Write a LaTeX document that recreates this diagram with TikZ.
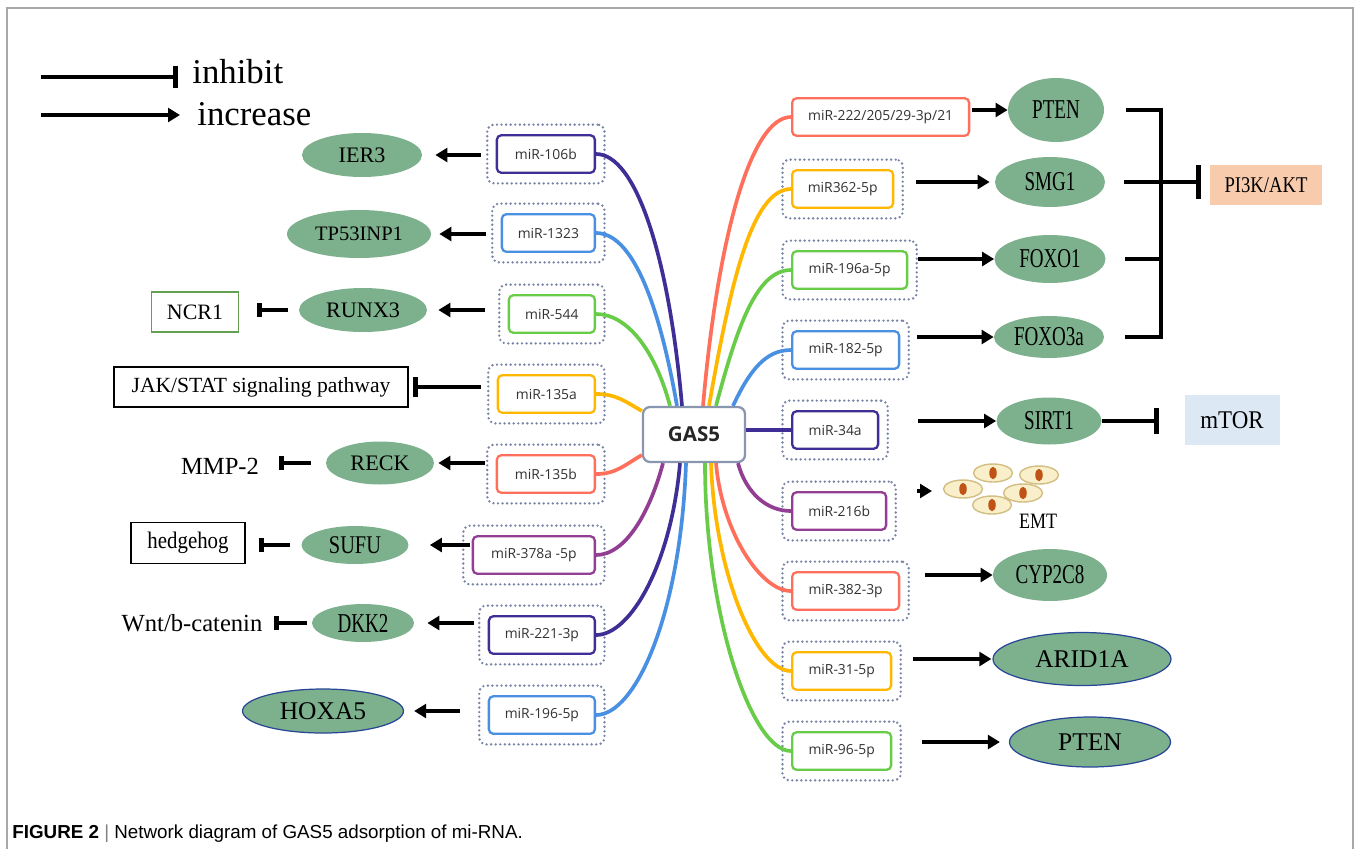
\documentclass[tikz,border=0pt]{standalone}
\usepackage{fontspec}
\setmainfont{Liberation Serif}
\newfontfamily\mirfont{Open Sans}
\newfontfamily\capfont{Liberation Sans}
\usepackage{graphicx}
\usetikzlibrary{shapes.geometric, arrows.meta, fit}

\definecolor{leaf}{RGB}{125,177,141}
\definecolor{rim}{RGB}{40,70,150}
\definecolor{cIndigo}{RGB}{62,46,150}
\definecolor{cBlue}{RGB}{74,144,226}
\definecolor{cGreen}{RGB}{104,204,72}
\definecolor{cGold}{RGB}{255,183,0}
\definecolor{cCoral}{RGB}{255,112,92}
\definecolor{cPlum}{RGB}{146,62,146}
\definecolor{dotline}{RGB}{122,132,166}
\definecolor{hubline}{RGB}{136,150,176}
\definecolor{peach}{RGB}{248,203,173}
\definecolor{ice}{RGB}{221,232,245}
\definecolor{ncrgreen}{RGB}{100,160,80}
\definecolor{framegray}{RGB}{168,168,168}
\definecolor{cellfill}{RGB}{249,239,202}
\definecolor{celledge}{RGB}{210,190,130}
\definecolor{corecol}{RGB}{192,84,22}

\newcommand{\squeezed}[2][0.7]{\scalebox{#1}[1]{#2}}

\tikzstyle{target} = [ellipse, fill=leaf, inner sep=0pt, font=\fontsize{12.6}{14}\selectfont]
\tikzstyle{bigtarget} = [target, draw=rim, line width=0.7pt, font=\fontsize{14.5}{17}\selectfont]
\tikzstyle{tallt} = [target, font=\fontsize{15.5}{17}\selectfont]
\tikzstyle{mirna} = [rectangle, rounded corners=2.5pt, line width=1.3pt, fill=white,
text=black!80, minimum height=0.75cm, inner sep=0pt,
font=\mirfont\fontsize{7.9}{9}\selectfont]
\tikzstyle{pocket} = [rectangle, rounded corners=4pt, draw=dotline, line width=1.5pt,
line cap=round, dash pattern=on 0pt off 2.6pt, inner xsep=0.17cm, inner ysep=0.19cm]
\tikzstyle{hub} = [rectangle, rounded corners=4pt, draw=hubline, line width=1.3pt, fill=white,
text=black!85, minimum width=2.04cm, minimum height=1.1cm,
font=\mirfont\bfseries\fontsize{11.7}{13}\selectfont]
\tikzstyle{pathbox} = [rectangle, draw=black, line width=0.8pt, inner sep=0pt, font=\fontsize{12.3}{14}\selectfont]
\tikzstyle{plain} = [inner sep=0pt, font=\fontsize{14}{16}\selectfont]
\tikzstyle{legend} = [inner sep=0pt, font=\fontsize{19.8}{22}\selectfont]
\tikzstyle{arrow} = [line width=2.8pt, -{Triangle[length=6.8pt,width=7.8pt]}]
\tikzstyle{inhibit} = [line width=2.8pt, -{Bar[width=8.5pt]}]
\tikzstyle{bracket} = [line width=2.8pt]
\tikzstyle{link} = [line width=2.1pt]
\tikzstyle{figframe} = [draw=framegray, line width=1.2pt]
\tikzstyle{cell} = [fill=cellfill, draw=celledge, line width=0.8pt]

\begin{document}
\begin{tikzpicture}[x=0.02cm, y=-0.02cm]
\useasboundingbox (0,0) rectangle (1354,849);

\draw [figframe] (7,849) -- (7,8) -- (1353,8) -- (1353,849);

\coordinate (inhA) at (41,77);
\coordinate (inhB) at (178,77);
\coordinate (incA) at (41,115);
\coordinate (incB) at (180,115);
\draw [inhibit, -{Bar[width=13pt]}] (inhA) -- (inhB);
\draw [arrow] (incA) -- (incB);
\node (inhtxt) [legend, anchor=base west] at (192,83) {inhibit};
\node (inctxt) [legend, anchor=base west] at (197,125) {increase};

\node (gas5) [hub] at (694,434.5) {GAS5};

\node (m106) [mirna, draw=cIndigo, minimum width=1.96cm, anchor=east] at (596,154) {miR-106b};
\node (m1323) [mirna, draw=cBlue, minimum width=1.86cm, anchor=east] at (596,233) {miR-1323};
\node (m544) [mirna, draw=cGreen, minimum width=1.72cm, anchor=east] at (596,314) {miR-544};
\node (m135a) [mirna, draw=cGold, minimum width=1.94cm, anchor=east] at (596,394) {miR-135a};
\node (m135b) [mirna, draw=cCoral, minimum width=1.96cm, anchor=east] at (596,474) {miR-135b};
\node (m378) [mirna, draw=cPlum, minimum width=2.44cm, anchor=east] at (596,555) {miR-378a -5p};
\node (m221) [mirna, draw=cIndigo, minimum width=2.12cm, anchor=east] at (596,635) {miR-221-3p};
\node (m196) [mirna, draw=cBlue, minimum width=2.12cm, anchor=east] at (596,715) {miR-196-5p};

\node (m222) [mirna, draw=cCoral, minimum width=3.54cm, anchor=west] at (791,117) {miR-222/205/29-3p/21};
\node (m362) [mirna, draw=cGold, minimum width=2.02cm, anchor=west] at (791,189) {miR362-5p};
\node (m196a) [mirna, draw=cGreen, minimum width=2.3cm, anchor=west] at (791,270) {miR-196a-5p};
\node (m182) [mirna, draw=cBlue, minimum width=2.14cm, anchor=west] at (791,350) {miR-182-5p};
\node (m34a) [mirna, draw=cIndigo, minimum width=1.72cm, anchor=west] at (791,430) {miR-34a};
\node (m216b) [mirna, draw=cPlum, minimum width=1.88cm, anchor=west] at (791,511) {miR-216b};
\node (m382) [mirna, draw=cCoral, minimum width=2.14cm, anchor=west] at (791,591) {miR-382-3p};
\node (m31) [mirna, draw=cGold, minimum width=1.98cm, anchor=west] at (791,671) {miR-31-5p};
\node (m96) [mirna, draw=cGreen, minimum width=1.98cm, anchor=west] at (791,751) {miR-96-5p};

\node (o106) [pocket, fit=(m106)] {};
\node (o1323) [pocket, fit=(m1323)] {};
\node (o544) [pocket, fit=(m544)] {};
\node (o135a) [pocket, fit=(m135a)] {};
\node (o135b) [pocket, fit=(m135b)] {};
\node (o378) [pocket, fit=(m378)] {};
\node (o221) [pocket, fit=(m221)] {};
\node (o196) [pocket, fit=(m196)] {};
\node (o362) [pocket, fit=(m362)] {};
\node (o196a) [pocket, fit=(m196a)] {};
\node (o182) [pocket, fit=(m182)] {};
\node (o34a) [pocket, fit=(m34a)] {};
\node (o216b) [pocket, fit=(m216b)] {};
\node (o382) [pocket, fit=(m382)] {};
\node (o31) [pocket, fit=(m31)] {};
\node (o96) [pocket, fit=(m96)] {};

\draw [link, cIndigo] ([xshift=-0.24cm]gas5.north) to[out=95, in=0, out distance=3cm, in distance=0.8cm] (m106.east);
\draw [link, cBlue] ([xshift=-0.34cm]gas5.north) to[out=100, in=0, out distance=2.2cm, in distance=0.7cm] (m1323.east);
\draw [link, cGreen] ([xshift=-0.48cm]gas5.north) to[out=105, in=0, out distance=1.2cm, in distance=0.6cm] (m544.east);
\draw [link, cGold] ([yshift=0.47cm]gas5.west) to[out=150, in=0, out distance=0.4cm, in distance=0.4cm] (m135a.east);
\draw [link, cCoral] ([yshift=-0.41cm]gas5.west) to[out=210, in=0, out distance=0.4cm, in distance=0.4cm] (m135b.east);
\draw [link, cPlum] ([xshift=-0.62cm]gas5.south) to[out=255, in=0, out distance=1cm, in distance=0.6cm] (m378.east);
\draw [link, cIndigo] ([xshift=-0.28cm]gas5.south) to[out=265, in=0, out distance=2cm, in distance=0.7cm] (m221.east);
\draw [link, cBlue] ([xshift=-0.16cm]gas5.south) to[out=268, in=0, out distance=3cm, in distance=0.8cm] (m196.east);

\draw [link, cCoral] ([xshift=0.18cm]gas5.north) to[out=85, in=180, out distance=3.4cm, in distance=0.8cm] (m222.west);
\draw [link, cGold] ([xshift=0.3cm]gas5.north) to[out=80, in=180, out distance=2.4cm, in distance=0.8cm] (m362.west);
\draw [link, cGreen] ([xshift=0.44cm]gas5.north) to[out=75, in=180, out distance=1.6cm, in distance=0.7cm] (m196a.west);
\draw [link, cBlue] ([xshift=0.78cm]gas5.north) to[out=65, in=180, out distance=0.8cm, in distance=0.5cm] (m182.west);
\draw [link, cIndigo] (gas5.east |- m34a) -- (m34a.west);
\draw [link, cPlum] ([xshift=0.88cm]gas5.south) to[out=285, in=180, out distance=0.6cm, in distance=0.5cm] (m216b.west);
\draw [link, cCoral] ([xshift=0.44cm]gas5.south) to[out=275, in=180, out distance=1.4cm, in distance=0.6cm] (m382.west);
\draw [link, cGold] ([xshift=0.34cm]gas5.south) to[out=272, in=180, out distance=2.2cm, in distance=0.7cm] (m31.west);
\draw [link, cGreen] ([xshift=0.22cm]gas5.south) to[out=270, in=180, out distance=3cm, in distance=0.8cm] (m96.west);

\node (ier3) [target, minimum width=2.4cm, minimum height=0.88cm] at (362,155) {IER3};
\node (tp53) [target, minimum width=2.88cm, minimum height=0.96cm, font=\fontsize{11.7}{13}\selectfont] at (359,234) {TP53INP1};
\node (runx3) [target, minimum width=2.56cm, minimum height=0.88cm] at (363,310) {RUNX3};
\node (reck) [target, minimum width=2.16cm, minimum height=0.86cm] at (380,463) {RECK};
\node (sufu) [target, minimum width=2.14cm, minimum height=0.76cm, font=\fontsize{14.5}{16}\selectfont] at (355,545) {\squeezed[0.8]{SUFU}};
\node (dkk2) [target, minimum width=2.04cm, minimum height=0.76cm, font=\fontsize{15.5}{17}\selectfont] at (363,623) {\squeezed[0.7]{DKK2}};
\node (hoxa5) [bigtarget, minimum width=3.22cm, minimum height=0.88cm] at (323,711) {HOXA5};

\node (ncr1) [pathbox, draw=ncrgreen, minimum width=1.74cm, minimum height=0.8cm, font=\fontsize{12.5}{14}\selectfont] at (195,312) {NCR1};
\node (jak) [pathbox, minimum width=5.88cm, minimum height=0.8cm] at (261,387) {JAK/STAT signaling pathway};
\node (mmp2) [plain] at (220,466) {MMP-2};
\node (hedge) [pathbox, minimum width=2.28cm, minimum height=0.82cm, font=\fontsize{13.5}{15}\selectfont] at (188,543) {\squeezed[0.88]{hedgehog}};
\node (wnt) [plain] at (192,623) {Wnt/b-catenin};

\draw [arrow, shorten <=0.1cm, shorten >=0.26cm] (o106.west |- ier3) -- (ier3.east);
\draw [arrow, shorten <=0.1cm, shorten >=0.16cm] (o1323.west |- tp53) -- (tp53.east);
\draw [arrow, shorten <=0.26cm, shorten >=0.22cm] (o544.west |- runx3) -- (runx3.east);
\draw [inhibit, -{Bar[width=11.3pt]}, shorten <=0.12cm, shorten >=0.08cm] (o135a.west |- jak) -- (jak.east);
\draw [arrow, shorten <=0.02cm, shorten >=0.08cm] (o135b.west |- reck) -- (reck.east);
\draw [arrow, shorten <=-0.16cm, shorten >=0.42cm] (o378.west |- sufu) -- (sufu.east);
\draw [arrow, shorten <=0.08cm, shorten >=0.26cm] (o221.west |- dkk2) -- (dkk2.east);
\draw [arrow, shorten <=0.36cm, shorten >=0.2cm] (o196.west |- hoxa5) -- (hoxa5.east);

\draw [inhibit, shorten <=0.22cm, shorten >=0.36cm] (runx3.west) -- (runx3.west -| ncr1.east);
\draw [inhibit, shorten <=0.3cm, shorten >=0.4cm] (reck.west) -- (reck.west -| mmp2.east);
\draw [inhibit, shorten <=0.23cm, shorten >=0.26cm] (sufu.west) -- (sufu.west -| hedge.east);
\draw [inhibit, shorten <=0.1cm, shorten >=0.22cm] (dkk2.west) -- (dkk2.west -| wnt.east);

\node (pten) [tallt, minimum width=1.92cm, minimum height=1.28cm] at (1056,110) {\squeezed{PTEN}};
\node (smg1) [tallt, minimum width=2.2cm, minimum height=1cm] at (1050,182) {\squeezed{SMG1}};
\node (foxo1) [tallt, minimum width=2.22cm, minimum height=0.96cm] at (1050,259) {\squeezed{FOXO1}};
\node (foxo3a) [tallt, minimum width=2.2cm, minimum height=0.84cm] at (1049,337) {\squeezed{FOXO3a}};
\node (sirt1) [tallt, minimum width=2.1cm, minimum height=0.94cm] at (1049,421) {\squeezed{SIRT1}};
\node (cyp) [tallt, minimum width=2.28cm, minimum height=1.04cm] at (1050,575) {\squeezed{CYP2C8}};
\node (arid) [bigtarget, minimum width=3.56cm, minimum height=1.06cm] at (1082,659) {ARID1A};
\node (pten2) [bigtarget, minimum width=3.22cm, minimum height=1cm] at (1090,742) {PTEN};

\node (pi3k) [rectangle, fill=peach, minimum width=2.24cm, minimum height=0.8cm, inner sep=0pt, font=\fontsize{12.8}{14}\selectfont] at (1266,185) {\squeezed[0.83]{PI3K/AKT}};
\node (mtor) [rectangle, fill=ice, minimum width=1.9cm, minimum height=1cm, inner sep=0pt, font=\fontsize{14.5}{16}\selectfont] at (1232,420) {\squeezed[0.9]{mTOR}};

\draw [arrow, shorten <=0.04cm] (m222.east |- pten) -- (pten.west);
\draw [arrow, shorten <=0.24cm, shorten >=0.1cm] (o362.east |- smg1) -- (smg1.west);
\draw [arrow] (o196a.east |- foxo1) -- (foxo1.west);
\draw [arrow, shorten <=0.14cm] (o182.east |- foxo3a) -- (foxo3a.west);
\draw [arrow, shorten <=0.58cm] (o34a.east |- sirt1) -- (sirt1.west);
\draw [arrow, shorten <=0.3cm] (o382.east |- cyp) -- (cyp.west);
\draw [arrow, shorten <=0.22cm, shorten >=0.02cm] (o31.east |- arid) -- (arid.west);
\draw [arrow, shorten <=0.4cm, shorten >=0.18cm] (o96.east |- pten2) -- (pten2.west);

\coordinate (hinge) at (1161,183);
\draw [bracket, shorten <=0.44cm] (pten.east) -| (hinge);
\draw [bracket, shorten <=0.42cm] (foxo3a.east) -| (hinge);
\draw [bracket, shorten <=0.38cm] (foxo1.east) -- (foxo1.east -| hinge);
\draw [inhibit, -{Bar[width=19pt]}, shorten <=0.38cm, shorten >=0.18cm] (smg1.east) -- (smg1.east -| pi3k.west);
\draw [inhibit, -{Bar[width=14.7pt]}, shorten >=0.5cm] (sirt1.east) -- (sirt1.east -| mtor.west);

\foreach \cx/\cy in {993/473, 1039/475, 963/489, 1023/493, 992/505} {
\draw [cell] (\cx,\cy) ellipse [x radius=0.39cm, y radius=0.18cm];
\fill [corecol] (\cx,\cy) ellipse [x radius=0.075cm, y radius=0.125cm];
}
\node (emt) [inner sep=0pt, font=\fontsize{12.5}{14}\selectfont] at (1038,521) {\squeezed[0.82]{EMT}};
\coordinate (cellsW) at (944,491);
\draw [arrow, shorten <=0.4cm, shorten >=0.24cm] (o216b.east |- cellsW) -- (cellsW);

\node (caption) [anchor=base west, inner sep=0pt, font=\capfont\fontsize{10.7}{12}\selectfont] at (12,838) {\textbf{FIGURE 2} {\color{gray}|} Network diagram of GAS5 adsorption of mi-RNA.};

\end{tikzpicture}
\end{document}
